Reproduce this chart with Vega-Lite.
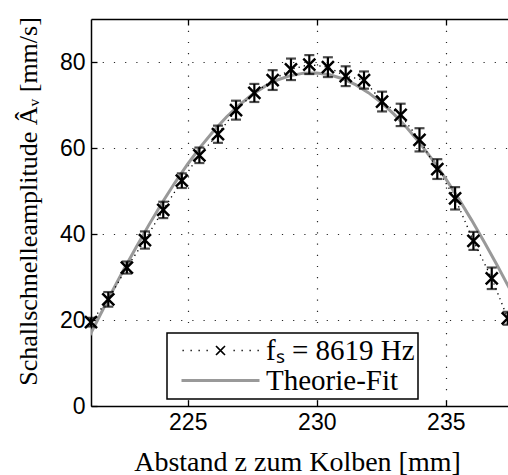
{
 "$schema": "https://vega.github.io/schema/vega-lite/v6.json",
 "width": 417,
 "height": 387,
 "autosize": {"type": "none"},
 "padding": {"left": 91, "top": 19, "right": 0, "bottom": 69},
 "background": "white",
 "config": {
  "view": {"stroke": null},
  "axis": {
   "domainColor": "black", "domainWidth": 1.5,
   "tickColor": "black", "tickWidth": 1.3,
   "labelColor": "black", "titleColor": "black",
   "labelFont": "Liberation Sans", "labelFontSize": 23,
   "titleFont": "Liberation Serif", "titleFontWeight": "normal",
   "gridColor": "black", "gridDash": [1.2, 10], "gridWidth": 1.2, "gridOpacity": 0.85
  }
 },
 "datasets": {
  "meas": [
   {"z": 221.25, "A": 19.5, "e": 1.0, "series": "fₛ = 8619 Hz"},
   {"z": 221.92, "A": 24.8, "e": 1.7, "series": "fₛ = 8619 Hz"},
   {"z": 222.64, "A": 32.2, "e": 1.4, "series": "fₛ = 8619 Hz"},
   {"z": 223.34, "A": 38.6, "e": 2.0, "series": "fₛ = 8619 Hz"},
   {"z": 224.05, "A": 45.6, "e": 1.9, "series": "fₛ = 8619 Hz"},
   {"z": 224.77, "A": 52.4, "e": 1.7, "series": "fₛ = 8619 Hz"},
   {"z": 225.45, "A": 58.3, "e": 1.8, "series": "fₛ = 8619 Hz"},
   {"z": 226.17, "A": 63.2, "e": 2.0, "series": "fₛ = 8619 Hz"},
   {"z": 226.87, "A": 68.8, "e": 2.2, "series": "fₛ = 8619 Hz"},
   {"z": 227.58, "A": 72.8, "e": 2.1, "series": "fₛ = 8619 Hz"},
   {"z": 228.29, "A": 75.8, "e": 2.3, "series": "fₛ = 8619 Hz"},
   {"z": 229.00, "A": 78.3, "e": 2.5, "series": "fₛ = 8619 Hz"},
   {"z": 229.71, "A": 79.4, "e": 2.2, "series": "fₛ = 8619 Hz"},
   {"z": 230.43, "A": 78.8, "e": 2.3, "series": "fₛ = 8619 Hz"},
   {"z": 231.12, "A": 76.7, "e": 2.3, "series": "fₛ = 8619 Hz"},
   {"z": 231.83, "A": 75.8, "e": 2.0, "series": "fₛ = 8619 Hz"},
   {"z": 232.53, "A": 70.8, "e": 2.3, "series": "fₛ = 8619 Hz"},
   {"z": 233.25, "A": 67.7, "e": 2.6, "series": "fₛ = 8619 Hz"},
   {"z": 233.98, "A": 61.9, "e": 2.7, "series": "fₛ = 8619 Hz"},
   {"z": 234.67, "A": 55.1, "e": 2.3, "series": "fₛ = 8619 Hz"},
   {"z": 235.36, "A": 48.3, "e": 2.6, "series": "fₛ = 8619 Hz"},
   {"z": 236.07, "A": 38.4, "e": 2.1, "series": "fₛ = 8619 Hz"},
   {"z": 236.78, "A": 29.7, "e": 2.5, "series": "fₛ = 8619 Hz"},
   {"z": 237.40, "A": 20.4, "e": 1.5, "series": "fₛ = 8619 Hz"}
  ],
  "fit": [
   {"z": 221.0, "A": 14.0, "series": "Theorie-Fit"},
   {"z": 221.5, "A": 19.94, "series": "Theorie-Fit"},
   {"z": 222.0, "A": 25.82, "series": "Theorie-Fit"},
   {"z": 222.5, "A": 31.51, "series": "Theorie-Fit"},
   {"z": 223.0, "A": 36.93, "series": "Theorie-Fit"},
   {"z": 223.5, "A": 42.18, "series": "Theorie-Fit"},
   {"z": 224.0, "A": 47.20, "series": "Theorie-Fit"},
   {"z": 224.5, "A": 51.91, "series": "Theorie-Fit"},
   {"z": 225.0, "A": 56.28, "series": "Theorie-Fit"},
   {"z": 225.5, "A": 60.31, "series": "Theorie-Fit"},
   {"z": 226.0, "A": 63.96, "series": "Theorie-Fit"},
   {"z": 226.5, "A": 67.22, "series": "Theorie-Fit"},
   {"z": 227.0, "A": 70.05, "series": "Theorie-Fit"},
   {"z": 227.5, "A": 72.45, "series": "Theorie-Fit"},
   {"z": 228.0, "A": 74.39, "series": "Theorie-Fit"},
   {"z": 228.5, "A": 75.87, "series": "Theorie-Fit"},
   {"z": 229.0, "A": 76.88, "series": "Theorie-Fit"},
   {"z": 229.5, "A": 77.41, "series": "Theorie-Fit"},
   {"z": 230.0, "A": 77.46, "series": "Theorie-Fit"},
   {"z": 230.5, "A": 77.03, "series": "Theorie-Fit"},
   {"z": 231.0, "A": 76.11, "series": "Theorie-Fit"},
   {"z": 231.5, "A": 74.73, "series": "Theorie-Fit"},
   {"z": 232.0, "A": 72.87, "series": "Theorie-Fit"},
   {"z": 232.5, "A": 70.56, "series": "Theorie-Fit"},
   {"z": 233.0, "A": 67.81, "series": "Theorie-Fit"},
   {"z": 233.5, "A": 64.65, "series": "Theorie-Fit"},
   {"z": 234.0, "A": 61.07, "series": "Theorie-Fit"},
   {"z": 234.5, "A": 57.12, "series": "Theorie-Fit"},
   {"z": 235.0, "A": 52.81, "series": "Theorie-Fit"},
   {"z": 235.5, "A": 48.17, "series": "Theorie-Fit"},
   {"z": 236.0, "A": 43.23, "series": "Theorie-Fit"},
   {"z": 236.5, "A": 38.03, "series": "Theorie-Fit"},
   {"z": 237.0, "A": 32.62, "series": "Theorie-Fit"},
   {"z": 237.5, "A": 26.99, "series": "Theorie-Fit"}
  ]
 },
 "resolve": {"axis": {"x": "independent"}},
 "layer": [
  {
   "data": {"name": "fit"},
   "mark": {"type": "line", "strokeWidth": 3, "clip": true},
   "encoding": {
    "x": {"field": "z", "type": "quantitative",
     "scale": {"domain": [221.25, 237.41], "nice": false, "zero": false},
     "axis": {"orient": "bottom", "values": [225, 230, 235], "tickSize": -6, "labelPadding": 11,
      "title": "Abstand z zum Kolben [mm]", "titleFontSize": 28, "titleX": 206, "titleY": 64,
      "titleBaseline": "alphabetic", "titleAlign": "center", "grid": true}},
    "y": {"field": "A", "type": "quantitative", "title": "Schallschnelleamplitude Âᵥ [mm/s]",
     "scale": {"domain": [0, 90], "nice": false, "zero": true},
     "axis": {"values": [0, 20, 40, 60, 80], "tickSize": -6, "labelPadding": 12,
      "titleFontSize": 26, "titleX": -55, "titleY": 182,
      "titleAngle": 270, "titleBaseline": "alphabetic", "titleAlign": "center", "grid": true}},
    "color": {"field": "series", "type": "nominal",
     "scale": {"domain": ["fₛ = 8619 Hz", "Theorie-Fit"], "range": ["black", "#999999"]},
     "legend": {
      "title": null, "orient": "none", "legendX": 76, "legendY": 314, "padding": 3,
      "fillColor": "white", "strokeColor": "black",
      "labelFont": "Liberation Serif", "labelFontSize": 29, "labelColor": "black", "labelLimit": 0,
      "symbolSize": 100, "symbolStrokeWidth": 1.5, "rowPadding": 0,
      "symbolOffset": 36, "labelOffset": 31,
      "encode": {
       "symbols": {"update": {
        "shape": {"signal": "datum.value == 'Theorie-Fit' ? 'M-7.8,0L7.8,0' : 'M-7.6,0h0.26M-6.0,0h0.26M-4.4,0h0.26M-2.8,0h0.26M2.6,0h0.26M4.2,0h0.26M5.8,0h0.26M7.4,0h0.26M-0.9,-0.9L0.9,0.9M-0.9,0.9L0.9,-0.9'"},
        "strokeWidth": {"signal": "datum.value == 'Theorie-Fit' ? 3 : 1.6"},
        "strokeDash": {"value": [1, 0]},
        "fill": {"value": "transparent"}
       }},
       "legend": {"update": {"strokeWidth": {"value": 1.5}}}
      }
     }}
   }
  },
  {
   "data": {"name": "meas"},
   "mark": {"type": "line", "strokeWidth": 1.3, "strokeDash": [1.3, 4], "clip": true},
   "encoding": {
    "x": {"field": "z", "type": "quantitative", "axis": null},
    "y": {"field": "A", "type": "quantitative", "title": "Schallschnelleamplitude Âᵥ [mm/s]"},
    "color": {"field": "series", "type": "nominal"}
   }
  },
  {
   "data": {"name": "meas"},
   "mark": {"type": "errorbar", "ticks": {"size": 10, "thickness": 2.2}, "rule": {"strokeWidth": 2.2}, "color": "black"},
   "encoding": {
    "x": {"field": "z", "type": "quantitative", "axis": null},
    "y": {"field": "A", "type": "quantitative", "title": "Schallschnelleamplitude Âᵥ [mm/s]"},
    "yError": {"field": "e"}
   }
  },
  {
   "data": {"name": "meas"},
   "mark": {"type": "point", "shape": "M-1,-1L1,1M-1,1L1,-1", "size": 144, "strokeWidth": 2.5,
    "color": "black", "filled": false, "opacity": 1},
   "encoding": {
    "x": {"field": "z", "type": "quantitative",
     "axis": {"orient": "top", "values": [225, 230, 235], "labels": false, "grid": false,
      "tickSize": -6, "title": null, "domain": true}},
    "y": {"field": "A", "type": "quantitative", "title": "Schallschnelleamplitude Âᵥ [mm/s]"}
   }
  }
 ]
}
